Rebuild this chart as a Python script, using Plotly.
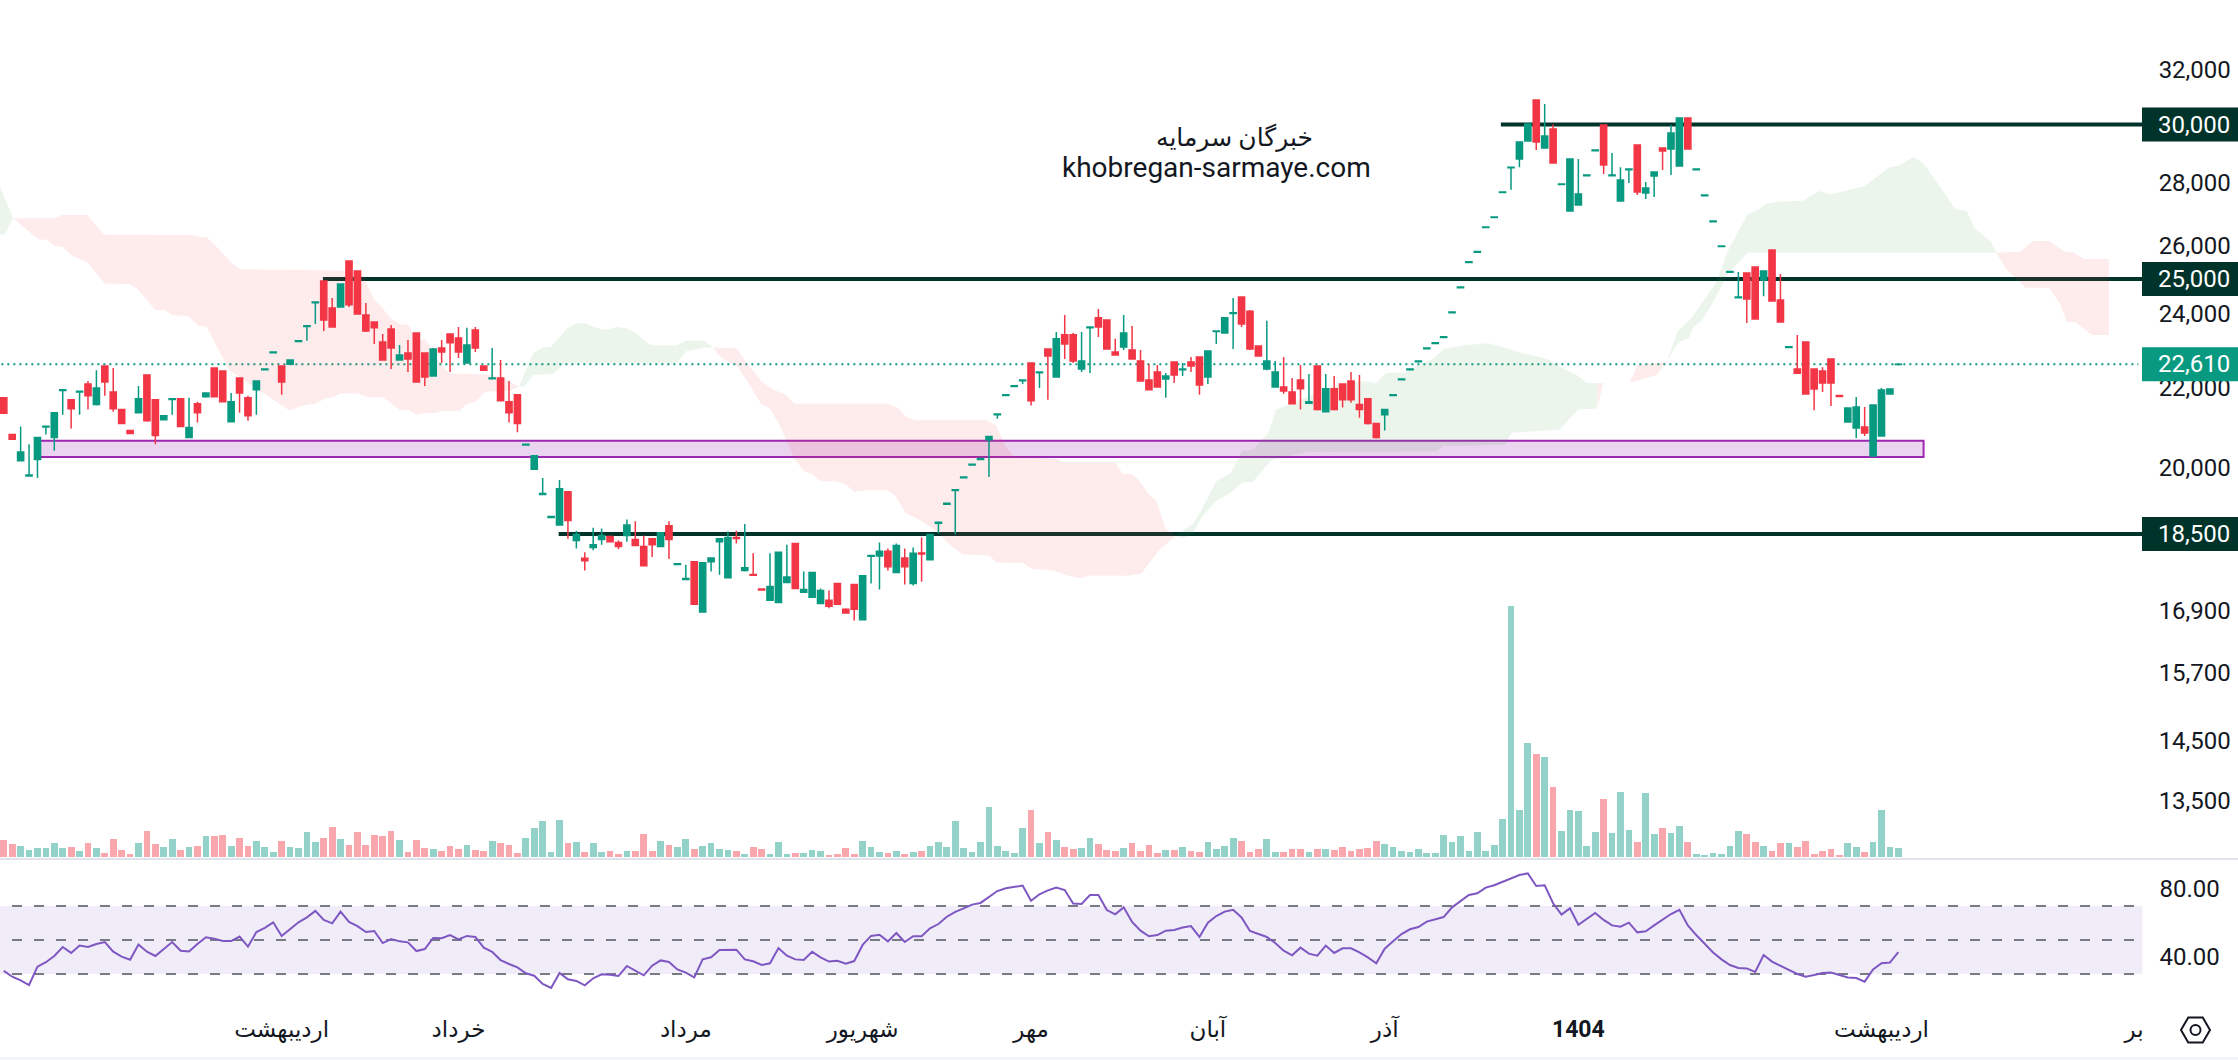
import math
import plotly.graph_objects as go

opens = [21730,20810,20175,19815,20205,20990,20735,21915,21680,21880,
22085,21555,22560,21880,21430,20905,21350,22320,21680,21175,
21685,21705,20735,21580,21755,22505,22425,21125,22245,21730,
21935,22460,22915,22560,22610,23220,23635,24310,24940,24160,
24190,25535,25235,23960,23765,23210,23565,22720,22910,23460,
22910,22295,23045,23430,23320,22640,23540,22560,22225,22245,
21630,21805,20550,19970,19385,18865,18700,19445,18360,17980,
18210,18380,18445,18315,18470,18380,18230,18400,18230,18680,
17845,17535,17905,16875,17905,18335,17570,18425,17720,17640,
17340,17110,17065,17470,18295,17270,17170,17045,17110,17450,
16930,17430,16720,18020,18025,18130,17680,17985,17450,18090,
17945,18740,19165,19475,19770,20070,20205,20680,21300,21790,
22020,22170,22640,22380,23015,22270,23405,23405,22480,23605,
23880,23820,22935,23070,22990,22695,22190,22400,22215,22665,
22460,22665,22800,22270,23495,23460,24005,24475,24070,23100,
22480,22010,22010,21880,22190,21590,22560,21375,21960,22085,
22165,21555,21705,21080,21300,21790,22195,22460,22675,23025,
23165,23330,24025,24745,25495,25805,26565,26880,27685,28510,
28805,29420,30880,29180,29840,27950,27090,27280,28245,29090,
29985,28245,27410,28445,29285,27670,28235,29180,29150,28570,
30235,28445,27585,26750,25975,25200,24455,25180,25355,24970,
25870,24390,23060,22480,23210,22480,22425,22745,21790,21115,
20970,20995,20285,20770,21825,22600]

highs = [21730,20810,21005,20570,20735,21010,21350,21935,21680,21900,
22165,22450,22560,22505,21430,20905,22035,22320,21680,21275,
21705,21705,21730,21630,21855,22505,22425,21855,22245,21780,
22165,22480,22935,22560,22720,23240,23655,24330,24940,24445,
24850,25535,25235,24300,23765,23430,23680,23130,23265,23460,
22910,23045,23265,23430,23625,23600,23625,22560,23045,22720,
22165,21805,20570,20290,19765,18885,19720,19445,18575,18105,
18640,18620,18470,18360,18820,18780,18470,18400,18530,18780,
17865,17840,17905,17885,17985,18400,18555,18575,18720,18085,
17340,18085,18105,18270,18295,17700,17680,17350,17310,17450,
16950,17430,17610,18040,18315,18190,18295,18190,18210,18425,
18490,18760,19185,19495,19790,20090,20225,20760,21320,21810,
22040,22190,22640,22400,23015,23485,23960,23460,23485,23625,
24130,23820,23295,23960,23650,22990,22610,22585,22375,22665,
22640,22800,22800,22960,23515,23880,24445,24475,24100,23100,
23795,22695,22800,22245,22585,22345,22560,22345,22295,22085,
22400,22320,21705,21080,21430,21810,22215,22480,22695,23045,
23185,23350,24045,24765,25515,25825,26585,26900,27705,28530,
29390,30020,30880,30740,30000,27970,28805,28805,28265,29110,
29985,29010,28530,28465,29285,28035,28365,29180,29985,30235,
30235,28465,27605,26770,25995,25220,25210,25180,25355,25235,
25870,25150,23080,23400,23210,22480,22530,22745,21790,21470,
21750,21495,21545,21980,21955,22610]

lows = [21335,20690,20175,19815,19765,20810,20410,21300,20955,21300,
21430,21530,21780,21375,21080,20835,21350,21125,20570,21175,
21300,21005,20735,21105,21730,21755,21630,21125,21350,21150,
21300,22460,22915,21805,22610,23220,23240,23710,23515,23625,
24190,24190,23990,23485,23155,22720,22480,22720,22400,22140,
22035,22295,22640,22400,22775,22640,22935,22450,22225,21655,
21105,20860,20550,19970,19385,18865,18700,18400,18190,17720,
18150,18270,18335,18170,18335,18250,17820,18005,18230,17965,
17845,17535,17030,16875,17700,17630,17570,18295,17700,17620,
17320,17110,17065,17470,17350,17270,17170,17045,16950,17030,
16855,16705,16720,17450,17330,17720,17680,17430,17410,17490,
17945,18510,19165,18490,19770,20070,20205,19790,21200,21790,
22020,22085,21530,21980,21680,22270,22745,22640,22400,22375,
23345,23015,22855,22990,22745,22165,21935,22010,21730,22115,
22295,22400,21805,22085,23155,23460,23015,23625,22990,22830,
22450,22010,21830,21580,21430,21590,21405,21375,21405,21480,
21605,21225,21055,20710,20905,21790,22195,22460,22675,23025,
23165,23330,24025,24745,25495,25805,26565,26880,27685,27780,
28530,29420,29110,29180,28670,27950,27090,27280,28245,29090,
28300,28245,27410,28000,27610,27475,27540,28430,28265,28570,
29150,28445,27585,26750,25975,25200,24455,23735,23850,24500,
24360,23760,23060,22370,21825,21415,21880,21520,21760,21115,
20720,20770,20285,20770,21825,22600]

closes = [21335,20690,20380,19835,20735,21010,21350,21935,21450,21900,
21780,21980,22140,21450,21080,20835,21705,21150,20785,21275,
21705,21005,20980,21350,21855,21755,21630,21630,21855,21275,
22165,22480,22935,22140,22720,23240,23655,24330,23820,23625,
24850,24250,23990,23515,23600,22720,23045,22855,22745,22140,
22270,23015,22935,23185,22935,23130,23045,22450,22245,21655,
21350,21080,20570,20290,19405,18885,19515,18800,18490,17925,
18270,18470,18335,18230,18700,18250,17820,18270,18530,18380,
17865,17555,17030,17885,17985,18400,18425,18405,17780,17620,
17320,17390,18105,17585,17350,17330,17680,17310,16990,17030,
16855,16930,17610,18040,18130,17800,18250,17800,18085,18070,
18490,18760,19185,19495,19790,20090,20225,20760,21320,21810,
22040,22190,21655,22400,22830,23295,23155,22695,22695,23625,
23625,23015,22855,23460,22745,22165,21935,22010,22295,22320,
22480,22560,22060,22960,23515,23880,24025,23710,23015,22830,
22695,22400,21905,21580,21960,21630,21430,21960,21430,21680,
21680,21430,21080,20735,21430,21810,22215,22480,22695,23045,
23185,23350,24045,24765,25515,25825,26585,26900,27705,28530,
29390,30020,29390,29600,28670,27970,28805,27640,28265,29110,
28600,28265,28100,28465,27705,27835,28365,29080,29700,30235,
29150,28465,27605,26770,25995,25220,24475,24415,23850,25235,
24360,23760,23080,22370,21825,21955,22110,22110,21760,21470,
21495,20845,21545,21930,21955,22610]

volumes = [52,40,34,22,28,28,43,28,31,19,
43,28,13,55,22,10,43,79,40,31,
55,22,31,34,64,64,67,34,58,34,
49,31,16,49,31,28,76,46,58,91,
55,37,76,37,67,64,79,52,16,52,
28,25,19,34,25,37,22,19,49,43,
37,13,58,88,109,16,112,43,46,16,
43,16,19,10,19,19,70,19,49,37,
31,55,25,34,43,25,22,19,10,31,
25,10,46,10,13,13,22,19,7,10,
28,10,49,31,16,13,19,10,16,19,
34,46,31,109,28,16,46,151,34,19,
13,88,142,43,76,52,31,25,28,58,
40,22,19,28,43,19,37,13,22,22,
31,19,16,46,25,34,58,49,16,25,
55,16,16,25,25,16,25,25,22,31,
19,25,28,49,40,31,19,16,25,13,
13,67,46,64,19,75,18,36,114,753,
141,342,309,300,210,78,141,138,33,75,
174,72,195,81,45,192,69,87,72,93,
45,9,6,12,9,33,78,69,45,33,
18,42,42,30,48,9,18,24,6,42,
30,15,45,141,30,27]

rsi = [31.8,28.4,26.3,23.5,34.3,36.9,40.6,45.9,42.4,46.7,45.9,47.6,48.8,43.1,40.2,38.4,47.3,43.1,40.6,44.7,
48.8,43.7,43.3,47.6,51.6,50.8,49.4,49.4,52.0,46.1,54.7,57.1,60.4,52.4,56.3,60.4,63.3,67.1,61.8,59.8,
66.7,60.6,58.2,54.7,55.3,48.2,50.6,49.2,48.6,43.5,44.7,51.2,51.0,52.9,50.4,52.4,51.8,45.5,43.1,38.2,
35.9,33.9,30.4,29.0,24.1,21.8,30.6,26.9,25.9,23.3,27.5,29.8,29.6,28.8,34.7,32.0,29.2,34.9,38.0,37.1,
32.7,30.8,28.0,38.6,39.8,44.1,44.3,44.3,38.6,37.5,35.3,36.3,45.3,40.8,38.6,38.2,43.1,39.8,37.3,37.8,
36.1,37.6,47.1,52.4,53.1,49.2,54.1,48.8,52.2,52.2,56.9,59.4,63.7,66.5,68.6,70.8,71.8,75.5,78.8,80.4,
81.2,82.0,73.1,76.9,79.2,80.8,79.4,71.4,71.2,76.5,76.5,67.6,65.1,
69.2,60.6,55.5,52.2,52.9,55.5,55.9,57.3,58.2,51.8,60.2,64.1,66.7,67.8,63.3,55.3,53.7,51.8,48.2,43.7,
41.0,45.5,42.0,40.8,46.7,42.4,45.1,45.1,42.7,39.8,36.3,44.9,49.2,53.5,56.3,57.6,60.8,62.2,63.5,69.2,
72.9,76.5,77.5,80.8,82.2,84.3,86.5,88.2,89.2,81.8,82.2,71.6,64.9,68.6,59.0,62.5,65.9,61.8,58.6,57.8,
60.2,54.5,55.1,58.6,62.0,65.3,67.8,58.6,52.9,48.0,42.7,38.6,35.3,33.5,33.3,31.2,41.2,37.3,34.7,32.4,
30.0,28.4,29.4,30.6,30.8,29.4,28.0,27.6,25.5,32.7,36.3,36.7,42.9]

g0_top_x = [-0.5,1.1]
g0_top = [27900,26860]
g0_bot_x = [-0.5,0.1,1.1]
g0_bot = [26350,26350,26860]

r1_top_x = [1.1,6.1,7.0,9.9,11.9,22.3,22.8,24.1,25.1,27.1,28.2,39.3,42.4,43,43.9,45,45.9,47,48.1,49,50.1,51,52.1,53,58.1,59.2,61.2]
r1_top = [26860,26860,26960,26960,26345,26335,26285,26260,26020,25465,25285,25265,25245,24920,24435,24150,23870,23710,23680,23265,23285,22900,22540,22365,22320,22235,22020]
r1_bot_x = [1.1,3,4.1,5.2,6.1,7,8.1,9.9,12,14.9,16,18,19.1,20,22,23.1,24.1,25.1,26.8,28.5,31.1,33.9,35.9,37,38.2,39,40,42.2,43.3,45,47,48.1,49,50.1,51.2,52.1,54.1,54.9,56.1,57.2,60.1,61.2]
r1_bot = [26860,26440,26200,26180,25985,25970,25690,25500,24870,24850,24680,24100,24100,23960,23915,23650,23630,23175,22450,22190,21805,21410,21550,21575,21720,21735,21845,21830,21745,21745,21430,21410,21300,21340,21340,21390,21390,21550,21635,21890,21910,22020]

g1_top_x = [61.2,62.9,64,64.9,66.9,68,69,70,71.1,72,72.8,74,75.1,76.8,79.9,81.1,83.1,84.2]
g1_top = [22020,22900,23060,23070,23585,23720,23735,23630,23555,23565,23630,23585,23450,23130,23110,23240,23250,23065]
g1_bot_x = [61.2,61.8,62.9,65.2,66.6,79.9,81.1,82,83.1,84.2]
g1_bot = [22020,22020,22320,22345,22630,22630,22960,22990,23060,23065]

r2_top_x = [84.2,85.5,87,88.6,90,91.4,92.9,93.9,105,106.2,107.1,108.2,116.7,117.9,119,119.9,125,125.8,132,132.9,134,134.9,136,136.9,138,139.2]
r2_top = [23065,23040,23040,22540,22150,21935,21805,21580,21580,21470,21260,21160,21160,21015,20530,20280,20220,20130,20130,19860,19860,19690,19385,19240,18610,18470]
r2_bot_x = [84.2,85.1,86,87,88.6,90,90.9,92,94,95.1,96,97,98.8,100,101,102.5,105,105.9,107.1,108.8,111,112.2,113.9,117,117.9,121,122.1,124.7,126.1,127.8,128.9,133.5,135.1,137.2,139.2]
r2_bot = [23065,22810,22675,22585,22060,21555,21470,21100,20185,19920,19860,19690,19690,19615,19445,19485,19485,19350,18965,18810,18540,18285,18065,18040,17890,17885,17760,17720,17630,17560,17615,17610,17660,18150,18470]

g2_top_x = [139.2,141.2,142,144,145.7,147.1,148.3,150.2,151.1,152.8,156.8,159.6,161.9,163,164.2,166.4,167.9,169.9,171,173.7,176.3,177.9,180.4,183.3,185.2,186.8,188,189.3]
g2_top = [18470,18720,18950,19690,19880,20410,20430,20850,21430,21580,21935,22150,22150,22105,22380,22380,22565,22765,23015,23130,23175,23080,22900,22750,22495,22320,22120,22105]
g2_bot_x = [139.2,140,141.2,142.3,144,145.7,147.1,148.3,150.5,152.8,155,170.2,170.9,178.2,179.1,184.8,187,189.2]
g2_bot = [18470,18410,18500,18880,19240,19425,19670,19670,20185,20300,20380,20395,20530,20550,20850,20930,21430,21455]

r3_top_x = [189.3,193.1,194,197.5]
r3_top = [22105,22120,22585,22675]
r3_bot_x = [189.3,189.9,193.1,196.3,197.5]
r3_bot = [21455,22105,22120,22320,22675]

g3_top_x = [197.5,198.8,200.4,202,203.3,204.8,206.1,207.1,208.3,209.3,210.9,213.7,215.6,216.9,221,223.9,225.2,226.8,228,231.8,233.1,234.1,236,236.6]
g3_top = [22675,23495,23870,24435,24870,25870,26490,26990,27120,27320,27395,27420,27735,27625,27900,28520,28600,28870,28655,27150,27100,26545,26125,25790]
g3_bot_x = [197.5,198.5,199.1,200.1,200.7,201.7,202.9,204.8,207.1,236.6]
g3_bot = [22675,23080,23220,23310,23630,23820,24290,25170,25790,25790]

r4_top_x = [236.6,239.5,241,242.9,244.8,245.8,247.1,250]
r4_top = [25790,25815,26145,26145,25815,25795,25595,25595]
r4_bot_x = [236.6,237.9,240.1,242.9,244.2,245,246.1,248,250]
r4_bot = [25790,25265,24745,24735,24290,23770,23750,23400,23400]

cloud_green = [(g0_top_x,g0_top,g0_bot_x,g0_bot),(g1_top_x,g1_top,g1_bot_x,g1_bot),
               (g2_top_x,g2_top,g2_bot_x,g2_bot),(g3_top_x,g3_top,g3_bot_x,g3_bot)]
cloud_red = [(r1_top_x,r1_top,r1_bot_x,r1_bot),(r2_top_x,r2_top,r2_bot_x,r2_bot),
             (r3_top_x,r3_top,r3_bot_x,r3_bot),(r4_top_x,r4_top,r4_bot_x,r4_bot)]

price_ticks = [32000,28000,26000,24000,22000,20000,16900,15700,14500,13500]
levels = [(30000,177.8),(25000,37.9),(18500,65.9)]
last_price = 22610
zone_low, zone_high = 20262, 20655
zone_x = (4, 228)
month_pos = [33,54,81,102,122,143,164,187,223,253]
month_labels = ["اردیبهشت","خرداد","مرداد","شهریور","مهر","آبان","آذر","<b>1404</b>","اردیبهشت","بر"]
rsi_levels = [70,50,30]
rsi_ticks = [80,40]

UP, DOWN = "#089981", "#F23645"
DARK = "#00332A"
TXT = "#131722"
FONT = "Roboto, 'Noto Sans', 'DejaVu Sans', sans-serif"
W, H = 2238, 1060
X_RIGHT = 254.0
PX_PER_LN = 847.0

n = len(closes)
xs = list(range(n))
fig = go.Figure()

for color, segs in (("rgba(67,160,71,0.10)", cloud_green), ("rgba(242,54,69,0.10)", cloud_red)):
    for tx, ty, bx, by in segs:
        fig.add_trace(go.Scatter(x=list(tx)+list(bx)[::-1], y=list(ty)+list(by)[::-1], mode="lines",
                                 line=dict(width=0), fill="toself", fillcolor=color, hoverinfo="skip",
                                 xaxis="x", yaxis="y"))

vcols = ["rgba(8,153,129,0.44)" if closes[i] >= opens[i] else "rgba(242,54,69,0.44)" for i in xs]
fig.add_trace(go.Bar(x=xs, y=volumes, marker=dict(color=vcols, line=dict(width=0)), width=0.8, xaxis="x", yaxis="y2"))

fig.add_trace(go.Candlestick(x=xs, open=opens, high=highs, low=lows, close=closes,
    increasing=dict(line=dict(color=UP, width=1.5), fillcolor=UP),
    decreasing=dict(line=dict(color=DOWN, width=1.5), fillcolor=DOWN),
    whiskerwidth=0, xaxis="x", yaxis="y3"))

fig.add_trace(go.Scatter(x=xs, y=rsi, mode="lines", line=dict(color="#7E57C2", width=2), xaxis="x", yaxis="y4"))

shapes = []
for val, start in levels:
    shapes.append(dict(type="line", xref="x", yref="y", x0=start, x1=X_RIGHT, y0=val, y1=val,
                       line=dict(color=DARK, width=4), layer="below"))
shapes.append(dict(type="line", xref="x", yref="y", x0=-1, x1=253.5, y0=last_price, y1=last_price,
                   line=dict(color=UP, width=2, dash="2px,4px"), layer="below"))
shapes.append(dict(type="rect", xref="x", yref="y", x0=zone_x[0], x1=zone_x[1], y0=zone_low, y1=zone_high,
                   fillcolor="rgba(156,39,176,0.2)", line=dict(color="#9C27B0", width=2), layer="below"))
shapes.append(dict(type="rect", xref="x", yref="y4", x0=-1, x1=X_RIGHT, y0=30, y1=70,
                   fillcolor="rgba(126,87,194,0.11)", line=dict(width=0), layer="below"))
for lv in rsi_levels:
    shapes.append(dict(type="line", xref="x", yref="y4", x0=-1.64, x1=253, y0=lv, y1=lv,
                       line=dict(color="#787B86", width=2, dash="10px,12px"), layer="below"))
def px(x): return x / W
def py(y): return 1 - y / H
shapes.append(dict(type="rect", xref="paper", yref="paper", x0=0, x1=1, y0=py(860), y1=py(858),
                   fillcolor="#E0E3EB", line=dict(width=0)))
shapes.append(dict(type="rect", xref="paper", yref="paper", x0=0, x1=1, y0=0, y1=py(1057),
                   fillcolor="#F0F3FA", line=dict(width=0)))
cx, cy, r = 2195.5, 1030, 14.5
pts = [(cx + r*math.cos(math.radians(a)), cy + r*math.sin(math.radians(a))) for a in range(0, 360, 60)]
path = "M " + " L ".join(f"{px(a):.5f} {py(b):.5f}" for a, b in pts) + " Z"
shapes.append(dict(type="path", xref="paper", yref="paper", path=path, line=dict(color=TXT, width=2)))
shapes.append(dict(type="circle", xref="paper", yref="paper", x0=px(cx-5), x1=px(cx+5), y0=py(cy+5), y1=py(cy-5),
                   line=dict(color=TXT, width=2)))

anns = []
for val, col in ((30000,DARK),(25000,DARK),(18500,DARK),(last_price,UP)):
    shapes.append(dict(type="rect", xref="paper", yref="y", x0=px(2142), x1=1,
                       y0=val*math.exp(-17/PX_PER_LN), y1=val*math.exp(17/PX_PER_LN),
                       fillcolor=col, line=dict(width=0), layer="above"))
    anns.append(dict(xref="paper", yref="y", x=px(2229.5), y=math.log10(val), xanchor="right", yanchor="middle",
                     text=f"{val:,}", showarrow=False,
                     font=dict(color="white", size=24, family=FONT), borderpad=0, borderwidth=0))
anns.append(dict(xref="paper", yref="paper", x=px(1234), y=py(137), text="خبرگان سرمایه", showarrow=False,
                 font=dict(size=25, color=TXT, family=FONT), xanchor="center", yanchor="middle"))
anns.append(dict(xref="paper", yref="paper", x=px(1216), y=py(167), text="khobregan-sarmaye.com", showarrow=False,
                 font=dict(size=28, color=TXT, family=FONT), xanchor="center", yanchor="middle"))

main_dom = [1 - 857/H, 1]
log_range = [4.1016, 4.5410]
hidden_y = dict(visible=False, showgrid=False, zeroline=False)
fig.update_layout(
    width=W, height=H, margin=dict(l=0, r=0, t=0, b=0),
    paper_bgcolor="white", plot_bgcolor="white", showlegend=False,
    boxgap=0.27, boxgroupgap=0, bargap=0, hovermode=False,
    xaxis=dict(domain=[0,1], range=[-0.45, 265.34], anchor="y4", tickmode="array", tickvals=month_pos, ticktext=month_labels,
               showgrid=False, zeroline=False, showline=False, ticks="outside", ticklen=3, tickcolor="rgba(0,0,0,0)",
               tickfont=dict(size=23, color=TXT, family=FONT), rangeslider=dict(visible=False)),
    yaxis=dict(domain=main_dom, type="log", range=log_range, side="right", showgrid=False, zeroline=False,
               tickmode="array", tickvals=price_ticks, ticktext=[f"{v:,}" for v in price_ticks],
               ticklabelposition="inside", ticks="inside", ticklen=9, tickcolor="rgba(0,0,0,0)",
               tickfont=dict(size=24, color=TXT, family=FONT)),
    yaxis2=dict(domain=main_dom, range=[0, 2571], overlaying="y", **hidden_y),
    yaxis3=dict(domain=main_dom, type="log", range=log_range, overlaying="y", **hidden_y),
    yaxis4=dict(domain=[1 - 1005/H, 1 - 860/H], range=[11.76, 97.06], side="right", showgrid=False, zeroline=False,
                tickmode="array", tickvals=rsi_ticks, ticktext=[f"{v:.2f}" for v in rsi_ticks],
                ticklabelposition="inside", ticks="inside", ticklen=20, tickcolor="rgba(0,0,0,0)",
                tickfont=dict(size=24, color=TXT, family=FONT)),
    shapes=shapes, annotations=anns,
)
fig.write_html("out.html", post_script="document.body.style.margin='0';", config=dict(displayModeBar=False))
